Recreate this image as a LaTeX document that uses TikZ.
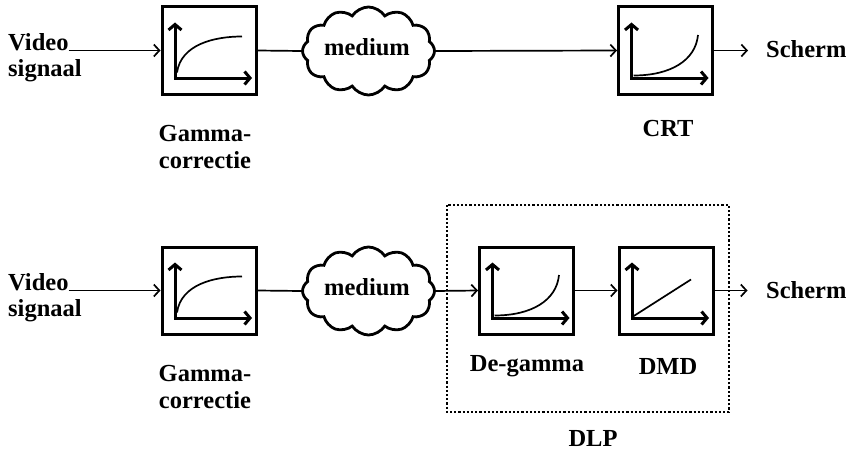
\documentclass[tikz,border=0pt]{standalone}
\usepackage{fontspec}
\setmainfont{Liberation Serif}
\usetikzlibrary{arrows.meta,shapes.symbols}
\begin{document}
\begin{tikzpicture}[x=1pt,y=-1pt,
  lbl/.style={font=\fontsize{24.5}{27}\selectfont\bfseries, inner sep=0},
  mlbl/.style={lbl, align=center},
  blk/.style={draw, line width=3pt, minimum width=94pt, minimum height=87pt, inner sep=0},
  conn/.style={line width=1.7pt, -{Straight Barb[length=5.5pt,width=12pt,line width=1.7pt]}},
  plain/.style={line width=1.7pt},
  ax/.style={line width=3pt, line join=miter, {Straight Barb[length=5.5pt,width=13pt]}-{Straight Barb[length=5.5pt,width=13pt]}},
  crv/.style={line width=1.7pt},
  cl/.style={draw, cloud, cloud puffs=12, cloud puff arc=115, aspect=1.5, line width=2.8pt, minimum width=132pt, minimum height=88pt, inner sep=0},
  dlp/.style={draw, dotted, line width=2.2pt}
]
\useasboundingbox (0,0) rectangle (848,452);

% ---------- top row ----------
\node[lbl, anchor=base west] (v1) at (8,50.5) {Video};
\node[lbl, anchor=base west] (s1) at (8,76) {signaal};
\node[blk] (g1) at (209,50.5) {};
\node[cl] (m1) at (368.5,51) {};
\node[lbl] (mt1) at (367,47) {medium};
\node[blk] (c1) at (665.5,50.5) {};
\node[lbl, anchor=base west] (sc1) at (766,58) {Scherm};
\node[mlbl, anchor=north] (gl1) at (205,125) {Gamma-\\correctie};
\node[lbl] (crt) at (668,129) {CRT};

\draw[conn] (v1.base east) -- (v1.base east -| g1.west);
\draw[plain] (g1.east) -- (m1.west);
\draw[conn] (m1.east) -- (c1.west);
\draw[conn] (c1.east) -- ++(34,0) coordinate (e1);

\begin{scope}[shift={(g1.center)}]
  \draw[ax] (-34,-28) -- (-34,27.5) -- (43,27.5);
  \draw[crv] (-32,22) .. controls (-28,-6) and (5,-14) .. (33,-14);
\end{scope}
\begin{scope}[shift={(c1.center)}]
  \draw[ax] (-34,-28) -- (-34,27.5) -- (43,27.5);
  \draw[crv] (-32,25) .. controls (5,25) and (30,10) .. (32.5,-15.5);
\end{scope}

% ---------- bottom row ----------
\node[lbl, anchor=base west] (v2) at (8,290.5) {Video};
\node[lbl, anchor=base west] (s2) at (8,316) {signaal};
\node[blk] (g2) at (209,290.5) {};
\node[cl] (m2) at (368.5,291) {};
\node[lbl] (mt2) at (367,287) {medium};
\node[blk] (d1) at (526.5,290.5) {};
\node[blk] (d2) at (666,290.5) {};
\node[lbl, anchor=base west] (sc2) at (766,298) {Scherm};
\node[mlbl, anchor=north] (gl2) at (205,365) {Gamma-\\correctie};
\node[lbl] (dgl) at (527,366) {De-gamma};
\node[lbl] (dmdl) at (668,366) {DMD};
\node[lbl] (dlpl) at (593,438.5) {DLP};
\draw[dlp] (447,205) rectangle (729,412);

\draw[conn] (v2.base east) -- (v2.base east -| g2.west);
\draw[plain] (g2.east) -- (m2.west);
\draw[conn] (m2.east) -- (d1.west);
\draw[conn] (d1.east) -- (d2.west);
\draw[conn] (d2.east) -- ++(33,0) coordinate (e2);

\begin{scope}[shift={(g2.center)}]
  \draw[ax] (-34,-28) -- (-34,27.5) -- (43,27.5);
  \draw[crv] (-32,22) .. controls (-28,-6) and (5,-14) .. (33,-14);
\end{scope}
\begin{scope}[shift={(d1.center)}]
  \draw[ax] (-34,-28) -- (-34,27.5) -- (43,27.5);
  \draw[crv] (-32,25) .. controls (5,25) and (30,10) .. (32.5,-15.5);
\end{scope}
\begin{scope}[shift={(d2.center)}]
  \draw[ax] (-34,-28) -- (-34,27.5) -- (43,27.5);
  \draw[crv] (-33,26) -- (25,-11);
\end{scope}
\end{tikzpicture}
\end{document}
